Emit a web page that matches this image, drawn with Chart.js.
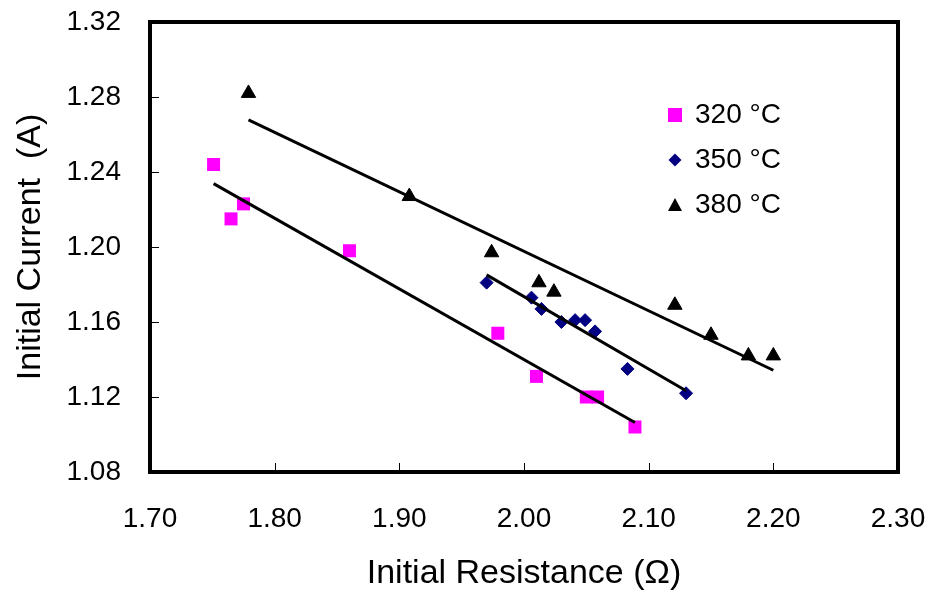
<!DOCTYPE html>
<html>
<head>
<meta charset="utf-8">
<script src="https://cdn.jsdelivr.net/npm/chart.js@4.4.0/dist/chart.umd.min.js"></script>
<style>
  html, body { margin: 0; padding: 0; background: #fff; }
  canvas { display: block; }
</style>
</head>
<body>
<canvas id="chart" width="935" height="599"></canvas>
<script>
// Initial resistance (ohm) vs initial current (A), per anneal temperature
const seriesLabels = ['320 °C', '350 °C', '380 °C'];

const resistance320 = [1.751, 1.765, 1.775, 1.860, 1.979, 2.010, 2.050, 2.059, 2.089];
const current320    = [1.244, 1.215, 1.223, 1.198, 1.154, 1.131, 1.120, 1.120, 1.104];

const resistance350 = [1.970, 2.006, 2.014, 2.030, 2.041, 2.049, 2.057, 2.083, 2.130];
const current350    = [1.181, 1.173, 1.167, 1.160, 1.161, 1.161, 1.155, 1.135, 1.122];

const resistance380 = [1.779, 1.908, 1.974, 2.012, 2.024, 2.121, 2.150, 2.180, 2.200];
const current380    = [1.282, 1.227, 1.197, 1.181, 1.176, 1.169, 1.153, 1.142, 1.142];

const xTickValues = [1.70, 1.80, 1.90, 2.00, 2.10, 2.20, 2.30];
const yTickValues = [1.08, 1.12, 1.16, 1.20, 1.24, 1.28, 1.32];

const FONT = '"Liberation Sans", Arial, sans-serif';

function toPoints(xs, ys) {
  return xs.map((x, i) => ({ x: x, y: ys[i] }));
}

// Least-squares linear fit, drawn between the smallest and largest x
function fitLine(xs, ys) {
  const n = xs.length;
  const mx = xs.reduce((a, b) => a + b, 0) / n;
  const my = ys.reduce((a, b) => a + b, 0) / n;
  let sxy = 0, sxx = 0;
  for (let i = 0; i < n; i++) {
    sxy += (xs[i] - mx) * (ys[i] - my);
    sxx += (xs[i] - mx) * (xs[i] - mx);
  }
  const slope = sxy / sxx;
  const x0 = Math.min(...xs), x1 = Math.max(...xs);
  return [
    { x: x0, y: my + slope * (x0 - mx) },
    { x: x1, y: my + slope * (x1 - mx) }
  ];
}

const markerStyles = [
  { pointStyle: 'rect', radius: 9.2, color: '#FF00FF', border: 0 },
  { pointStyle: 'rectRot', radius: 6.5, color: '#000080', border: 1 },
  { pointStyle: 'triangle', radius: 8.3, color: '#000000', border: 1 }
];

const seriesData = [
  [resistance320, current320],
  [resistance350, current350],
  [resistance380, current380]
];

const trendDatasets = seriesData.map(([xs, ys]) => ({
  type: 'line',
  data: fitLine(xs, ys),
  borderColor: '#000',
  borderWidth: 3,
  pointRadius: 0,
  fill: false,
  order: 0
}));

const scatterDatasets = seriesData.map(([xs, ys], i) => ({
  label: seriesLabels[i],
  data: toPoints(xs, ys),
  pointStyle: markerStyles[i].pointStyle,
  pointRadius: markerStyles[i].radius,
  pointHoverRadius: markerStyles[i].radius,
  backgroundColor: markerStyles[i].color,
  borderColor: markerStyles[i].color,
  borderWidth: markerStyles[i].border,
  order: 1
}));

// Thick box around the plot area with short inward tick marks
const framePlugin = {
  id: 'frame',
  afterDatasetsDraw(chart) {
    const { ctx, chartArea: a, scales: { x, y } } = chart;
    ctx.save();
    ctx.strokeStyle = '#000';
    ctx.lineWidth = 1;
    ctx.beginPath();
    xTickValues.forEach(v => {
      const px = Math.round(x.getPixelForValue(v)) + 0.5;
      ctx.moveTo(px, a.bottom);
      ctx.lineTo(px, a.bottom - 9);
    });
    yTickValues.forEach(v => {
      const py = Math.round(y.getPixelForValue(v)) + 0.5;
      ctx.moveTo(a.left, py);
      ctx.lineTo(a.left + 9, py);
    });
    ctx.stroke();
    ctx.lineWidth = 4;
    ctx.strokeRect(a.left, a.top, a.right - a.left, a.bottom - a.top);
    ctx.restore();
  }
};

// Legend box in the upper right of the plot
const legendPlugin = {
  id: 'insetLegend',
  afterDraw(chart) {
    const { ctx, chartArea: a } = chart;
    const mx = a.left + 525;
    const tx = a.left + 545;
    const top = a.top + 101;
    const step = 45;
    ctx.save();
    ctx.font = '28px ' + FONT;
    ctx.textBaseline = 'alphabetic';
    ctx.textAlign = 'left';
    seriesLabels.forEach((label, i) => {
      const base = top + i * step;
      const cy = base - 8;
      const st = markerStyles[i];
      ctx.fillStyle = st.color;
      ctx.beginPath();
      if (st.pointStyle === 'rect') {
        ctx.rect(mx - 7, cy - 7, 14, 14);
      } else if (st.pointStyle === 'rectRot') {
        ctx.moveTo(mx - 6.5, cy);
        ctx.lineTo(mx, cy - 6.5);
        ctx.lineTo(mx + 6.5, cy);
        ctx.lineTo(mx, cy + 6.5);
        ctx.closePath();
      } else {
        ctx.moveTo(mx, cy - 7);
        ctx.lineTo(mx + 7, cy + 6);
        ctx.lineTo(mx - 7, cy + 6);
        ctx.closePath();
      }
      ctx.fill();
      ctx.fillStyle = '#000';
      ctx.fillText(label, tx, base);
    });
    ctx.restore();
  }
};

// Fixed axis sizes; label overflow is already covered by the layout padding
function fixSize(prop, size) {
  return s => {
    s[prop] = size;
    s.paddingTop = 0;
    s.paddingBottom = 0;
    s.paddingLeft = 0;
    s.paddingRight = 0;
  };
}

new Chart(document.getElementById('chart'), {
  type: 'scatter',
  data: { datasets: [...trendDatasets, ...scatterDatasets] },
  options: {
    responsive: false,
    animation: false,
    devicePixelRatio: 1,
    layout: { padding: { top: 22, right: 37, left: 0, bottom: 0 } },
    plugins: {
      legend: { display: false },
      tooltip: { enabled: false }
    },
    scales: {
      x: {
        type: 'linear',
        min: 1.70,
        max: 2.30,
        afterBuildTicks: s => { s.ticks = xTickValues.map(v => ({ value: v })); },
        afterFit: fixSize('height', 127),
        grid: { display: false, drawTicks: false },
        border: { display: false },
        ticks: {
          padding: 30,
          color: '#000',
          font: { family: FONT, size: 28 },
          callback: v => Number(v).toFixed(2)
        },
        title: {
          display: true,
          text: 'Initial Resistance (Ω)',
          color: '#000',
          font: { family: FONT, size: 34 },
          padding: { top: 0, bottom: 5 }
        }
      },
      y: {
        type: 'linear',
        min: 1.08,
        max: 1.32,
        afterBuildTicks: s => { s.ticks = yTickValues.map(v => ({ value: v })); },
        afterFit: fixSize('width', 150),
        grid: { display: false, drawTicks: false },
        border: { display: false },
        ticks: {
          padding: 29,
          color: '#000',
          font: { family: FONT, size: 28 },
          callback: v => Number(v).toFixed(2)
        },
        title: {
          display: true,
          text: 'Initial Current  (A)',
          color: '#000',
          font: { family: FONT, size: 34 },
          padding: { top: 10, bottom: 0 }
        }
      }
    }
  },
  plugins: [framePlugin, legendPlugin]
});
</script>
</body>
</html>
